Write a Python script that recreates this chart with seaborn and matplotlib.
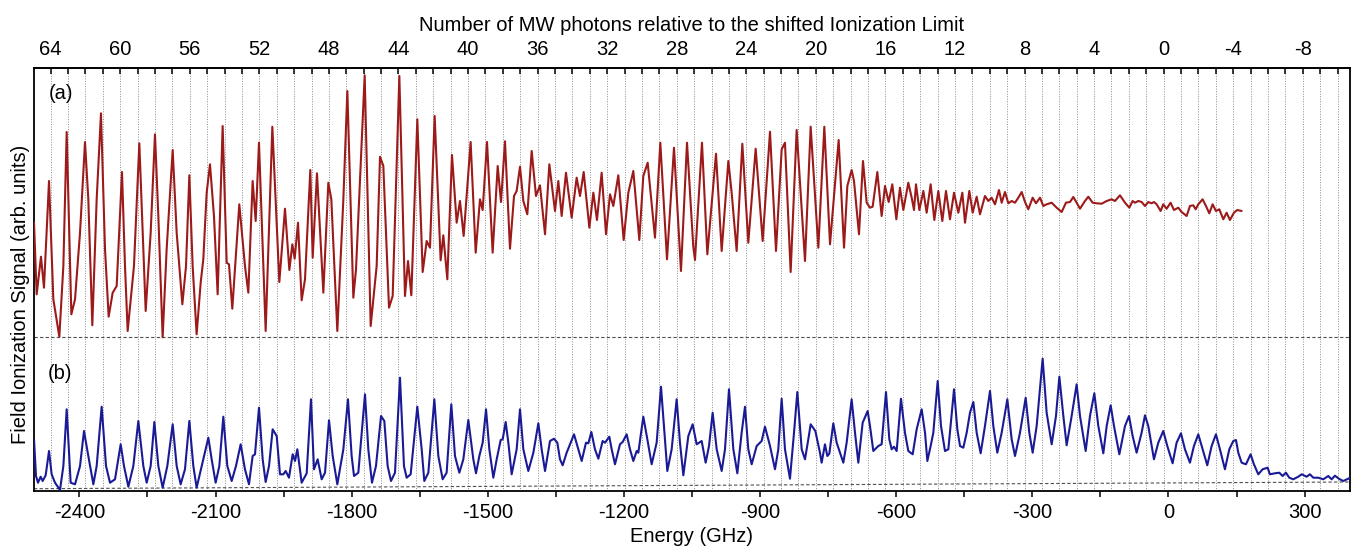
import numpy as np
import matplotlib
matplotlib.use("Agg")
import matplotlib.pyplot as plt
import seaborn as sns
from matplotlib.ticker import FixedLocator, MultipleLocator

# trace (a): energy (GHz) and signal above its own baseline (arb. units)
red_energy = [
    -2500.0, -2494.1, -2484.6, -2478.0, -2466.9, -2457.4, -2444.2, -2435.3, -2428.0, -2417.7,
    -2409.6, -2398.6, -2387.6, -2380.3, -2371.5, -2361.9, -2352.4, -2343.5, -2335.5, -2326.6,
    -2317.8, -2306.1, -2299.5, -2293.6, -2279.7, -2267.9, -2260.5, -2253.9, -2242.9, -2233.4,
    -2226.0, -2216.5, -2207.7, -2194.4, -2185.6, -2173.1, -2165.0, -2157.7, -2150.4, -2141.6,
    -2132.7, -2126.9, -2119.5, -2112.2, -2103.4, -2095.3, -2084.3, -2075.4, -2070.3, -2063.0,
    -2047.6, -2035.1, -2027.7, -2018.2,
    -2011.5, -2004.2, -1989.5, -1974.8, -1959.4, -1946.9, -1937.3, -1930.7, -1925.6, -1918.2,
    -1910.2, -1902.8, -1891.1, -1885.9, -1876.4, -1862.4, -1851.4, -1844.8, -1831.6, -1818.3,
    -1809.5, -1796.3, -1790.4, -1771.3, -1758.1, -1744.9, -1737.5, -1730.2, -1717.7, -1709.6,
    -1694.9, -1682.5, -1675.8, -1668.5, -1655.3, -1643.5, -1634.7, -1627.4, -1617.1, -1603.9,
    -1598.0, -1589.2, -1578.9, -1568.6, -1561.3, -1553.2, -1537.8,
    -1526.7, -1517.2, -1511.3, -1501.7, -1489.3, -1478.2, -1470.9, -1462.1, -1451.1, -1442.2,
    -1436.4, -1429.0, -1421.7, -1412.9, -1403.3, -1393.8, -1385.0, -1373.9, -1364.4, -1351.9,
    -1344.6, -1337.2, -1327.7, -1315.2, -1304.2, -1296.8, -1288.7, -1276.2, -1267.4, -1259.4,
    -1249.1, -1239.5, -1230.7, -1223.4, -1212.4, -1200.6, -1190.3, -1179.3, -1166.1, -1157.3,
    -1147.7, -1131.6, -1119.8, -1105.1, -1089.7, -1074.3, -1061.0, -1047.3,
    -1043.4, -1028.0, -1016.2, -997.1, -984.6, -969.9, -962.6, -951.6, -939.1, -925.9,
    -909.7, -894.3, -878.1, -864.9, -852.4, -845.1, -832.6, -819.4, -801.0, -788.5,
    -771.6, -758.4, -745.9, -726.8, -715.0, -707.7, -698.2, -693.0, -682.0, -673.2,
    -665.1, -657.8, -651.9, -641.6, -632.1, -624.7, -616.6, -608.6, -599.7, -591.7,
    -584.3, -573.3,
    -565.9, -560.8, -556.4, -549.0, -540.2, -532.9, -524.1, -516.0, -507.2, -498.4,
    -490.3, -481.5, -472.6, -463.1, -454.3, -448.4, -438.9, -431.5, -422.7, -415.4,
    -404.4, -397.0, -389.7, -382.3, -373.5, -367.6, -360.3, -352.9, -345.6, -338.2,
    -330.9, -323.5, -316.2, -308.9, -299.3, -292.0, -283.1, -275.8, -268.5, -257.4,
    -246.4, -235.4, -225.9, -217.0, -209.7, -202.4, -195.0, -184.0, -176.6, -167.1,
    -158.3, -147.3, -136.2, -125.2, -117.9, -106.9, -95.8, -86.3, -79.0,
    -73.9, -66.5, -59.2, -51.8, -44.5, -37.2, -32.0, -26.1, -17.3, -11.5,
    -4.1, 4.7, 12.1, 21.6, 29.0, 40.0, 47.3, 54.7, 59.8, 65.7,
    75.2, 82.6, 89.9, 97.3, 104.6, 112.0, 120.8, 128.1, 135.4, 144.3,
    151.6, 161.2,
]
red_signal = [
    114.6, 43.0, 80.6, 49.6, 156.3, 38.0, 0.6, 71.3, 205.3, 23.0,
    38.0, 104.6, 195.3, 138.0, 12.0, 138.0, 224.0, 88.0, 20.6, 44.6,
    51.3, 165.3, 71.3, 6.3, 71.3, 194.0, 104.6, 26.3, 104.6, 203.0,
    121.3, 0.0, 88.0, 187.3, 104.6, 33.0, 71.3, 162.0, 71.3, 3.0,
    54.6, 78.0, 144.6, 173.0, 121.3, 43.0, 211.3, 74.6, 73.0, 28.6,
    133.0, 71.3, 44.6, 156.3,
    116.3, 194.6, 6.3, 210.6, 55.3, 128.6, 67.3, 93.0, 78.6, 114.6,
    37.0, 58.0, 167.3, 79.6, 164.0, 44.6, 154.6, 138.0, 6.3, 138.0,
    246.3, 39.6, 68.0, 262.0, 11.3, 71.3, 180.6, 171.3, 29.6, 41.3,
    261.3, 41.3, 76.3, 42.0, 218.0, 65.3, 96.3, 89.6, 221.3, 77.0,
    102.0, 58.0, 182.3, 114.6, 136.3, 101.3, 195.3,
    84.6, 138.0, 127.3, 195.3, 84.6, 171.3, 135.3, 196.0, 88.6, 141.3,
    146.3, 170.6, 136.3, 123.0, 186.3, 141.3, 152.0, 103.0, 173.0, 126.3,
    156.3, 121.3, 164.6, 119.6, 159.6, 141.3, 165.3, 109.6, 144.6, 117.3,
    164.6, 103.0, 143.0, 131.3, 162.0, 97.3, 144.6, 166.3, 97.3, 161.3,
    174.6, 99.6, 194.6, 78.0, 189.6, 66.3, 194.6, 91.3,
    77.3, 194.6, 83.0, 183.6, 86.3, 176.3, 144.6, 86.3, 193.6, 94.6,
    188.6, 96.3, 205.6, 86.3, 188.0, 194.6, 65.3, 207.3, 76.3, 210.6,
    89.6, 210.6, 93.0, 197.3, 89.6, 151.3, 167.3, 156.3, 103.0, 176.3,
    134.6, 129.6, 130.6, 165.3, 121.3, 151.3, 135.3, 153.0, 118.0, 149.6,
    127.3, 154.6,
    139.6, 127.3, 153.0, 127.3, 146.3, 124.6, 153.0, 117.3, 146.3, 116.3,
    146.3, 118.0, 144.6, 124.6, 144.6, 114.6, 146.3, 124.6, 140.6, 123.0,
    141.3, 136.3, 139.6, 133.0, 147.3, 134.6, 145.3, 134.0, 136.3, 134.6,
    139.6, 145.3, 135.3, 128.0, 139.6, 134.0, 139.6, 131.3, 133.0, 134.6,
    129.6, 125.3, 134.6, 135.3, 140.3, 134.6, 128.6, 136.3, 140.6, 134.6,
    134.0, 133.6, 136.3, 138.0, 136.3, 142.0, 134.6, 129.6, 136.3,
    134.6, 136.3, 135.3, 131.3, 135.3, 134.0, 135.3, 133.0, 126.3, 133.0,
    128.6, 134.6, 127.3, 129.6, 125.3, 121.3, 131.3, 132.0, 128.0, 133.0,
    138.0, 131.3, 124.0, 133.0, 126.3, 128.0, 118.0, 124.6, 117.3, 124.6,
    127.3, 126.3,
]

# trace (b)
blue_energy = [
    -2500.0, -2495.6, -2491.2, -2485.3, -2480.9, -2474.3, -2466.9, -2461.1, -2453.7, -2442.7,
    -2435.3, -2428.0, -2419.2, -2409.6, -2398.6, -2389.8, -2380.3, -2369.2, -2361.9, -2350.9,
    -2341.3, -2332.5, -2321.5, -2309.0, -2301.7, -2292.1, -2281.1, -2270.1, -2259.1, -2251.7,
    -2242.9, -2234.8, -2226.0, -2216.5, -2206.2, -2194.4, -2185.6, -2176.8, -2167.3, -2157.7,
    -2148.9, -2141.6, -2130.5, -2115.8, -2108.5, -2099.7, -2091.6, -2082.8, -2074.0, -2064.4,
    -2054.9, -2044.6, -2035.1, -2026.3, -2018.2,
    -2013.0, -2004.2, -1996.1, -1989.5, -1982.1, -1974.1, -1965.2, -1957.9, -1950.6, -1945.4,
    -1938.1, -1930.0, -1924.8, -1919.7, -1910.2, -1899.1, -1889.6, -1883.0, -1874.9, -1866.1,
    -1858.7, -1849.9, -1841.8, -1831.6, -1818.3, -1808.1, -1800.0, -1794.8, -1785.3, -1770.6,
    -1763.3, -1755.2, -1746.4, -1735.3, -1728.0, -1720.7, -1713.3, -1704.5, -1693.5, -1684.7,
    -1678.8, -1670.0, -1655.3, -1645.7, -1639.9, -1631.0, -1617.8, -1609.0, -1599.5, -1590.7,
    -1580.4, -1572.3, -1562.7, -1553.9, -1542.9,
    -1531.9, -1526.0, -1518.6, -1511.3, -1503.9, -1496.6, -1487.8, -1480.4, -1471.6, -1467.2,
    -1460.6, -1454.7, -1447.4, -1436.4, -1429.0, -1421.7, -1410.7, -1399.6, -1388.6, -1381.3,
    -1373.9, -1362.9, -1354.1, -1346.8, -1340.9, -1335.0, -1326.2, -1310.0, -1302.7, -1293.1,
    -1283.6, -1278.4, -1271.8, -1263.8, -1256.4, -1246.9, -1241.7, -1232.2, -1227.0, -1219.7,
    -1208.7, -1202.8, -1194.0, -1186.6, -1179.3, -1171.9, -1168.3, -1157.3, -1148.4, -1138.9,
    -1127.9, -1118.3, -1109.5, -1104.4, -1094.8, -1083.8, -1076.5, -1069.1, -1058.1, -1048.6,
    -1045.6, -1039.7, -1028.7, -1019.9, -1012.5, -1004.5, -995.6, -984.6, -977.3, -968.5,
    -958.9, -950.1, -940.6, -933.2, -925.9, -918.5, -907.5, -896.5, -889.2, -878.1,
    -867.1, -859.8, -852.4, -845.1, -834.1, -825.2, -817.9, -808.3, -801.0, -793.7,
    -788.5, -778.2, -768.0, -764.3, -757.0, -751.8, -747.4, -738.6, -731.2, -716.5,
    -709.2, -698.2, -690.8, -683.5, -673.9, -662.9, -657.8, -650.4, -639.4, -632.1,
    -622.5, -615.2, -610.0, -604.9, -599.0, -589.5, -580.7, -573.3,
    -563.7, -554.9, -543.9, -536.5, -531.4, -524.1, -518.2, -508.6, -501.3, -492.5,
    -485.1, -472.6, -465.3, -459.4, -452.1, -444.7, -437.4, -430.0, -422.7, -413.9,
    -404.4, -393.3, -386.0, -377.2, -367.6, -355.1, -345.6, -338.2, -327.2, -314.7,
    -306.7, -299.3, -290.5, -277.3, -268.5, -257.4, -247.9, -240.5, -231.7, -224.4,
    -213.4, -202.4, -195.0, -182.5, -173.0, -163.4, -154.6, -143.6, -136.2, -127.4,
    -120.1, -108.3, -95.8, -87.0, -79.0,
    -70.2, -59.2, -51.8, -44.5, -32.0, -22.5, -11.5, -2.6, 9.1, 17.9,
    27.5, 36.3, 47.3, 56.1, 65.7, 75.2, 85.5, 95.1, 104.6, 113.4,
    124.4, 134.0, 142.8, 148.7, 153.8, 161.2, 170.7, 181.0, 188.3, 197.9,
    207.4, 218.4, 223.6, 234.6, 244.2, 251.5, 258.8, 266.2, 275.0, 286.0,
    293.4, 304.4, 311.7, 319.1, 330.1, 341.1, 352.1, 359.5, 366.8, 376.4,
    385.2, 396.2, 400.0,
]
blue_signal = [
    51.4, 14.7, 8.0, 14.0, 9.7, 15.4, 39.7, 16.4, 8.0, 0.7,
    24.7, 81.4, 8.0, 6.4, 24.7, 59.7, 34.7, 6.4, 24.7, 84.0,
    24.7, 8.0, 11.4, 46.4, 24.7, 4.0, 24.7, 69.7, 24.7, 8.0,
    24.7, 68.7, 24.7, 3.0, 24.7, 66.4, 24.7, 6.4, 21.4, 69.7,
    24.7, 3.0, 24.7, 53.0, 31.4, 8.0, 24.7, 74.0, 24.7, 9.7,
    24.7, 46.4, 21.4, 6.4, 34.7,
    36.4, 83.0, 31.4, 8.7, 24.7, 61.4, 54.7, 16.4, 16.4, 19.7,
    13.0, 36.4, 29.7, 41.4, 8.0, 17.4, 91.4, 21.4, 31.4, 11.4,
    18.0, 70.4, 34.7, 6.4, 41.4, 91.4, 34.7, 14.7, 18.0, 96.4,
    41.4, 8.0, 24.7, 74.7, 69.7, 24.7, 9.7, 18.0, 113.0, 24.7,
    13.0, 16.4, 84.0, 41.4, 9.7, 18.0, 91.4, 34.7, 11.4, 18.0,
    86.4, 34.7, 18.0, 31.4, 70.7,
    31.4, 17.4, 34.7, 48.0, 81.4, 41.4, 13.0, 31.4, 50.7, 51.4,
    68.7, 48.0, 16.4, 41.4, 81.4, 41.4, 19.7, 38.0, 67.4, 41.4,
    19.7, 49.7, 52.0, 48.0, 31.4, 25.4, 38.0, 56.4, 44.7, 29.7,
    48.0, 47.4, 58.7, 41.4, 32.0, 49.7, 48.0, 54.0, 41.4, 26.4,
    46.4, 48.7, 56.4, 41.4, 29.7, 39.7, 38.0, 74.0, 51.4, 26.4,
    48.0, 104.0, 51.4, 19.7, 41.4, 91.4, 48.0, 15.4, 54.7, 66.4,
    59.7, 46.4, 49.7, 28.0, 44.7, 78.0, 41.4, 19.7, 41.4, 101.4,
    41.4, 17.4, 58.0, 84.0, 41.4, 26.4, 44.7, 49.7, 64.0, 44.7,
    21.4, 41.4, 92.0, 41.4, 12.0, 58.0, 98.7, 41.4, 31.4, 51.4,
    66.4, 59.7, 38.0, 28.0, 46.4, 34.7, 37.0, 67.4, 48.0, 28.0,
    48.0, 91.4, 58.0, 28.0, 68.0, 79.7, 64.7, 39.7, 44.7, 46.4,
    98.7, 51.4, 41.4, 44.0, 39.7, 92.0, 58.0, 39.7,
    36.4, 61.4, 81.4, 58.0, 29.7, 44.7, 58.0, 109.7, 64.7, 39.7,
    41.4, 101.4, 61.4, 44.7, 43.0, 58.0, 78.0, 88.7, 58.0, 37.4,
    64.7, 99.7, 64.7, 38.0, 58.0, 91.4, 51.4, 34.7, 58.0, 93.0,
    58.0, 38.0, 64.7, 132.0, 78.0, 46.4, 74.7, 114.0, 74.7, 45.4,
    74.7, 106.4, 74.7, 39.7, 74.7, 97.4, 64.7, 37.4, 64.7, 85.4,
    64.7, 36.4, 64.7, 74.7, 54.7,
    38.0, 58.0, 75.4, 64.7, 31.4, 48.0, 59.7, 44.7, 27.4, 48.0,
    57.4, 41.4, 28.0, 44.7, 56.4, 41.4, 25.4, 44.7, 56.4, 41.4,
    21.4, 41.4, 49.7, 50.7, 38.0, 28.0, 26.4, 36.4, 26.4, 16.4,
    21.4, 23.0, 16.4, 17.4, 18.0, 14.7, 18.0, 13.0, 11.4, 14.0,
    16.4, 14.0, 16.4, 13.0, 13.0, 11.4, 14.7, 11.4, 15.0, 11.7,
    9.7, 12.0, 13.0,
]

# offsets / baselines (same arb. units)
red_offset = 153.4
blue_base_left, blue_base_right = 2.0, 8.7

# MW photon scale: E = E0 - n * f
E0 = -10.7
f_mw = 38.32
photon_ticks = list(range(64, -9, -4))
photon_all = list(range(-10, 65))


def e2n(e):
    return (E0 - np.asarray(e)) / f_mw


def n2e(n):
    return E0 - np.asarray(n) * f_mw


sns.set_style("white")
plt.rcParams["font.family"] = ["Liberation Sans", "DejaVu Sans"]
plt.rcParams["axes.unicode_minus"] = False
plt.rcParams["text.color"] = "black"
plt.rcParams["axes.labelcolor"] = "black"
plt.rcParams["xtick.color"] = "black"
plt.rcParams["xtick.labelcolor"] = "black"
fs = 14.5

fig = plt.figure(figsize=(13.54, 5.52), dpi=100)
ax = fig.add_axes([34 / 1354, 1 - 490.7 / 552, 1316 / 1354, 423 / 552])

# dotted photon grid
for n in photon_all:
    ax.axvline(float(n2e(n)), color="#8c8c8c", lw=0.7, ls=(0, (1, 1.6)), zorder=0)

# dashed baselines
ax.axhline(red_offset, color="#505050", lw=0.8, ls=(0, (3, 2)), zorder=1)
ax.plot([-2500, 400], [blue_base_left, blue_base_right], color="#505050", lw=0.8,
        ls=(0, (3, 2)), zorder=1)

sns.lineplot(x=red_energy, y=np.array(red_signal) + red_offset, ax=ax, color="#9c1a1a",
             lw=1.5, estimator=None, sort=False, zorder=3)
sns.lineplot(x=blue_energy, y=blue_signal, ax=ax, color="#1a1a96",
             lw=1.5, estimator=None, sort=False, zorder=3)
for ln in ax.get_lines():
    ln.set_solid_joinstyle("round")

ax.set_xlim(-2500, 400)
ax.set_ylim(0, 423)
ax.set_yticks([])
ax.xaxis.set_major_locator(FixedLocator(range(-2400, 301, 300)))
ax.xaxis.set_minor_locator(MultipleLocator(150))
ax.tick_params(axis="x", which="both", direction="out", length=4, width=1.1,
               labelsize=fs, pad=4.7, bottom=True, top=False)
ax.set_xlabel("Energy (GHz)", fontsize=fs, labelpad=4)
ax.set_ylabel("Field Ionization Signal (arb. units)", fontsize=fs)
ax.yaxis.set_label_coords(-0.003, 0.463)
for s in ax.spines.values():
    s.set_linewidth(1.3)
    s.set_color("black")

sec = ax.secondary_xaxis("top", functions=(e2n, n2e))
sec.set_xticks(photon_ticks)
sec.set_xticklabels([str(n) for n in photon_ticks])
sec.xaxis.set_minor_locator(FixedLocator(photon_all))
sec.tick_params(which="both", direction="in", length=4, width=1.1, labelsize=fs, pad=6,
                colors="black")
sec.set_xlabel("Number of MW photons relative to the shifted Ionization Limit",
               fontsize=fs, labelpad=6.5, color="black")
sec.spines["top"].set_linewidth(1.3)

ax.text(0.0205, 0.938, "(a)", transform=ax.transAxes, fontsize=fs, ha="center", va="center")
ax.text(0.0201, 0.277, "(b)", transform=ax.transAxes, fontsize=fs, ha="center", va="center")

fig.savefig("out.png", dpi=100)
